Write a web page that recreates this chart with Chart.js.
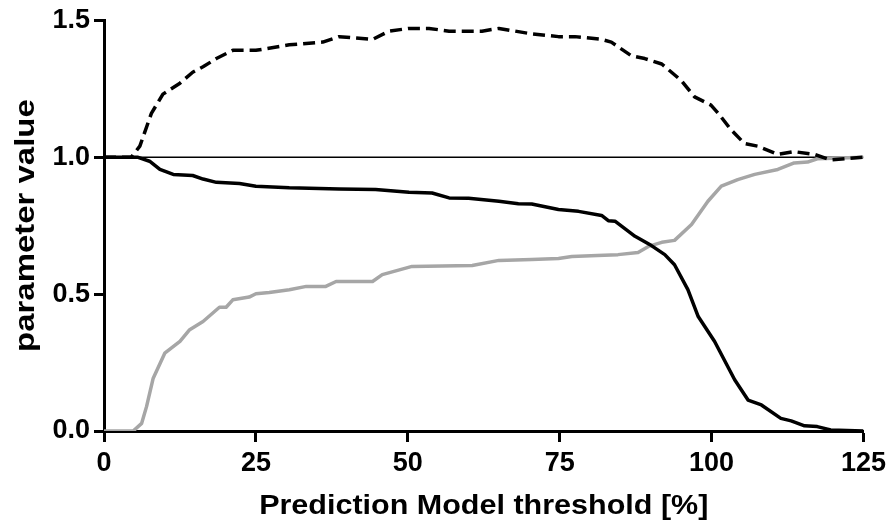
<!DOCTYPE html>
<html>
<head>
<meta charset="utf-8">
<script src="https://cdn.jsdelivr.net/npm/chart.js@4"></script>
<style>
  body { margin: 0; background: #fff; }
  canvas { display: block; }
</style>
</head>
<body>
<canvas id="grafico" width="891" height="523"></canvas>
<script>
// ---------------------------------------------------------
// Dados
// ---------------------------------------------------------
const xTicks = [0, 25, 50, 75, 100, 125];
const yTicks = [0.0, 0.5, 1.0, 1.5];

// linha tracejada (preta)
const dashX = [0, 4.5, 5.9, 7.8, 9.7, 12.5, 14.6, 16.3, 18.5, 21.2, 25, 30.5, 36, 38.7, 44.2, 46.9, 50.2, 53.5, 56.8, 62.2, 65, 70.4, 74.8, 77.5, 81.9, 83.5, 86.8, 89, 91.8, 95, 97.2, 99.9, 101.1, 103.2, 105.4, 107.6, 110.9, 113.6, 116.9, 119.6, 125];
const dashY = [1.00, 1.00, 1.04, 1.16, 1.23, 1.27, 1.31, 1.33, 1.36, 1.39, 1.39, 1.41, 1.42, 1.44, 1.43, 1.46, 1.47, 1.47, 1.46, 1.46, 1.47, 1.45, 1.44, 1.44, 1.43, 1.42, 1.37, 1.36, 1.34, 1.28, 1.22, 1.19, 1.16, 1.10, 1.05, 1.04, 1.01, 1.02, 1.01, 0.99, 1.00];

// linha contínua (preta)
const solidX = [0, 5.5, 7.5, 9.2, 11.4, 14.6, 16.3, 18.5, 22.3, 25, 30.5, 38.7, 44.7, 50.2, 54, 56.8, 60, 65, 68.2, 70.4, 74.8, 78.1, 81.9, 83, 84.1, 87.4, 90.1, 92.3, 93.9, 96.1, 97.8, 100.5, 103.8, 106, 108.2, 111.4, 113.1, 115.3, 117.4, 119.6, 125];
const solidY = [1.00, 1.00, 0.985, 0.955, 0.937, 0.933, 0.92, 0.908, 0.904, 0.894, 0.888, 0.884, 0.882, 0.872, 0.869, 0.851, 0.850, 0.839, 0.830, 0.829, 0.809, 0.802, 0.787, 0.768, 0.766, 0.711, 0.677, 0.644, 0.607, 0.516, 0.418, 0.327, 0.187, 0.113, 0.095, 0.046, 0.037, 0.019, 0.016, 0.004, 0.00];

// linha cinza
const grayX = [0, 4.8, 6.2, 7, 8.1, 10, 12.5, 14.1, 16.3, 19, 20.1, 21.2, 23.9, 25, 27.2, 30.5, 33.3, 36.5, 38.2, 44.2, 45.8, 50.7, 60.6, 65, 70.4, 74.8, 77, 81.2, 84.6, 87.9, 89.6, 91.8, 93.9, 96.7, 99.4, 101.6, 104.3, 107.1, 110.9, 113.6, 115.8, 117.4, 125];
const grayY = [0, 0, 0.028, 0.089, 0.193, 0.284, 0.327, 0.37, 0.40, 0.452, 0.452, 0.479, 0.489, 0.501, 0.506, 0.516, 0.528, 0.528, 0.546, 0.546, 0.571, 0.601, 0.604, 0.623, 0.626, 0.630, 0.637, 0.641, 0.644, 0.652, 0.674, 0.689, 0.696, 0.754, 0.839, 0.894, 0.918, 0.937, 0.955, 0.979, 0.982, 0.994, 1.00];

// linha de referência em 1.0
const refX = [0, 125];
const refY = [1, 1];

const xTitle = "Prediction Model threshold [%]";
const yTitle = "parameter value";

const pontos = (xs, ys) => xs.map((x, i) => ({ x: x, y: ys[i] }));

// ---------------------------------------------------------
// Títulos dos eixos (texto um pouco esticado, como no original)
// ---------------------------------------------------------
const titulosPlugin = {
  id: "titulos",
  afterDraw(chart) {
    const ctx = chart.ctx;
    const area = chart.chartArea;
    ctx.save();
    ctx.fillStyle = "#000";
    ctx.font = "bold 27px 'Liberation Sans', Arial, sans-serif";
    ctx.textAlign = "center";
    ctx.textBaseline = "alphabetic";

    ctx.save();
    ctx.translate((area.left + area.right) / 2, 514);
    ctx.scale(1.13, 1);
    ctx.fillText(xTitle, 0, 0);
    ctx.restore();

    ctx.save();
    ctx.translate(34, (area.top + area.bottom) / 2);
    ctx.rotate(-Math.PI / 2);
    ctx.scale(1.22, 1);
    ctx.fillText(yTitle, 0, 0);
    ctx.restore();

    ctx.restore();
  },
};

const fonteTicks = { family: "'Liberation Sans', Arial, sans-serif", size: 27, weight: "bold" };

new Chart(document.getElementById("grafico"), {
  type: "line",
  data: {
    datasets: [
      {
        data: pontos(dashX, dashY),
        borderColor: "#000",
        borderWidth: 3.5,
        borderDash: [12, 6],
        order: 1,
      },
      {
        data: pontos(solidX, solidY),
        borderColor: "#000",
        borderWidth: 3.5,
        order: 2,
      },
      {
        data: pontos(grayX, grayY),
        borderColor: "#a6a6a6",
        borderWidth: 3.5,
        order: 3,
      },
      {
        data: pontos(refX, refY),
        borderColor: "#000",
        borderWidth: 1.5,
        order: 4,
      },
    ],
  },
  options: {
    responsive: false,
    animation: false,
    layout: { padding: { top: 20, right: 25, left: 0, bottom: 0 } },
    elements: {
      point: { radius: 0 },
      line: { tension: 0, borderJoinStyle: "round", borderCapStyle: "butt" },
    },
    plugins: {
      legend: { display: false },
      tooltip: { enabled: false },
    },
    scales: {
      x: {
        type: "linear",
        min: 0,
        max: 125,
        afterFit: (s) => { s.height = 92; },
        afterBuildTicks: (s) => { s.ticks = xTicks.map((v) => ({ value: v })); },
        ticks: { color: "#000", font: fonteTicks, padding: 5, maxRotation: 0 },
        grid: { drawOnChartArea: false, tickLength: 11, tickWidth: 3, tickColor: "#000" },
        border: { display: true, color: "#000", width: 3 },
      },
      y: {
        type: "linear",
        min: 0,
        max: 1.5,
        afterFit: (s) => { s.width = 104; },
        afterBuildTicks: (s) => { s.ticks = yTicks.map((v) => ({ value: v })); },
        ticks: { color: "#000", font: fonteTicks, padding: 4, callback: (v) => Number(v).toFixed(1) },
        grid: { drawOnChartArea: false, tickLength: 10, tickWidth: 3, tickColor: "#000" },
        border: { display: true, color: "#000", width: 3 },
      },
    },
  },
  plugins: [titulosPlugin],
});
</script>
</body>
</html>
